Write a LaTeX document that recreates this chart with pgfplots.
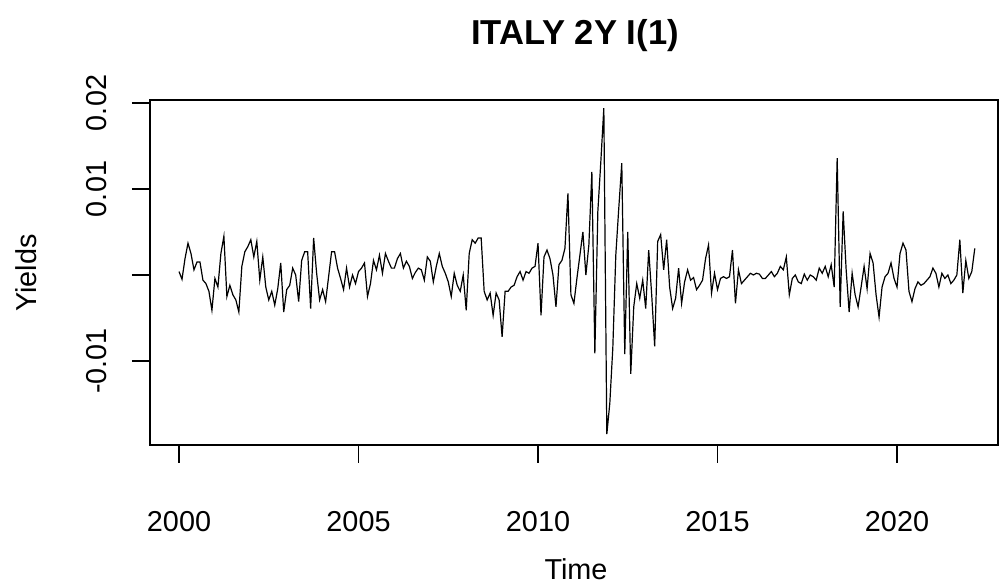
\documentclass[border=0pt]{standalone}
\usepackage{fontspec}
\setmainfont{Liberation Sans}
\usepackage{pgfplots}
\pgfplotsset{compat=1.18}
\usepackage{pgfplotstable}
% k = month index from Jan 2000, v = yield change in units of 0.001
\pgfplotstableread{
k v
0 0.4
1 -0.5
2 1.9
3 3.7
4 2.5
5 0.6
6 1.5
7 1.5
8 -0.6
9 -1.0
10 -1.9
11 -4.1
12 -0.4
13 -1.4
14 2.5
15 4.5
16 -2.5
17 -1.2
18 -2.3
19 -2.9
20 -4.3
21 1.0
22 2.7
23 3.3
24 4.1
25 2.1
26 3.9
27 -0.6
28 2.1
29 -1.4
30 -2.9
31 -1.9
32 -3.5
33 -1.6
34 1.4
35 -4.3
36 -1.7
37 -1.2
38 0.8
39 0.0
40 -3.1
41 1.7
42 2.7
43 2.7
44 -3.9
45 4.3
46 0.2
47 -2.9
48 -1.7
49 -3.1
50 -0.2
51 2.7
52 2.7
53 0.8
54 -0.4
55 -1.7
56 0.8
57 -1.4
58 0.0
59 -1.0
60 0.4
61 0.8
62 1.4
63 -2.5
64 -1.0
65 1.7
66 0.6
67 2.3
68 0.2
69 2.5
70 1.6
71 0.8
72 0.8
73 1.9
74 2.5
75 0.8
76 1.6
77 1.0
78 -0.4
79 0.3
80 0.8
81 0.6
82 -0.6
83 2.1
84 1.6
85 -0.8
86 1.0
87 2.5
88 1.0
89 0.2
90 -0.8
91 -2.5
92 0.2
93 -1.2
94 -1.9
95 0.0
96 -4.1
97 2.5
98 4.1
99 3.7
100 4.3
101 4.3
102 -1.9
103 -2.9
104 -2.1
105 -4.7
106 -2.1
107 -2.9
108 -7.2
109 -1.9
110 -1.9
111 -1.4
112 -1.2
113 -0.2
114 0.4
115 -0.6
116 0.4
117 0.2
118 0.8
119 1.0
120 3.7
121 -4.7
122 2.1
123 2.9
124 1.9
125 0.0
126 -3.7
127 1.2
128 1.7
129 3.1
130 9.5
131 -2.3
132 -3.3
133 -0.4
134 2.3
135 5.0
136 0.0
137 3.5
138 12.0
139 -9.1
140 7.4
141 13.2
142 19.4
143 -18.5
144 -14.9
145 -8.5
146 2.3
147 7.8
148 13.0
149 -9.2
150 5.0
151 -11.5
152 -3.7
153 -1.0
154 -2.7
155 -0.6
156 -3.9
157 2.9
158 -2.3
159 -8.3
160 3.9
161 4.7
162 0.6
163 4.1
164 -1.4
165 -3.9
166 -2.7
167 0.8
168 -3.3
169 -0.8
170 0.6
171 -0.6
172 -0.3
173 -1.7
174 -1.2
175 -0.6
176 1.9
177 3.5
178 -2.1
179 0.2
180 -1.7
181 -0.4
182 -0.2
183 -0.4
184 -0.2
185 2.9
186 -3.3
187 0.6
188 -1.0
189 -0.6
190 -0.2
191 0.2
192 0.0
193 0.2
194 0.1
195 -0.4
196 -0.4
197 0.0
198 0.4
199 -0.2
200 0.2
201 1.0
202 0.6
203 2.1
204 -2.3
205 -0.4
206 0.0
207 -0.8
208 -1.0
209 0.1
210 -0.6
211 0.0
212 -0.2
213 -0.6
214 0.8
215 0.2
216 1.0
217 -0.2
218 1.2
219 -1.4
220 13.6
221 -3.7
222 7.4
223 0.6
224 -4.3
225 0.2
226 -2.3
227 -3.7
228 -1.4
229 1.0
230 -1.6
231 2.5
232 1.4
233 -2.3
234 -4.9
235 -1.4
236 -0.2
237 0.2
238 1.4
239 -0.4
240 -1.4
241 2.5
242 3.7
243 2.9
244 -1.9
245 -3.1
246 -1.6
247 -0.8
248 -1.2
249 -1.0
250 -0.6
251 -0.2
252 0.8
253 0.2
254 -1.4
255 0.2
256 -0.4
257 0.0
258 -1.0
259 -0.6
260 0.0
261 4.1
262 -2.1
263 1.7
264 -0.4
265 0.4
266 3.1
}\datatable
\begin{document}
\begin{tikzpicture}
\useasboundingbox (-75pt,-71pt) rectangle (425pt,222.5pt);
\begin{axis}[
  at={(0pt,0pt)}, anchor=south west,
  scale only axis, width=424pt, height=172.5pt,
  xmin=-9.70, xmax=273.76, ymin=-19.767, ymax=20.349,
  xtick={0,60,120,180,240}, xticklabels={2000,2005,2010,2015,2020},
  ytick={-10,0,10,20}, yticklabels={-0.01,,0.01,0.02},
  scaled ticks=false,
  /pgf/number format/assume math mode=true,
  tick align=outside, major tick length=9pt,
  xtick pos=bottom, ytick pos=left,
  tick style={black, line width=0.65pt},
  axis line style={line width=0.65pt},
  ticklabel style={font=\fontsize{14.4}{17}\selectfont},
  xticklabel style={anchor=north, inner ysep=24pt},
  yticklabel style={rotate=90, anchor=south, inner ysep=12.5pt},
]
\addplot[black, line width=0.6pt] table[x=k, y=v] {\datatable};
\end{axis}
\node[anchor=base, font=\fontsize{17.3}{20}\selectfont\bfseries] at (212.5pt,200pt) {ITALY 2Y I(1)};
\node[anchor=base, font=\fontsize{14.4}{17}\selectfont] at (213pt,-67.5pt) {Time};
\node[rotate=90, anchor=base, font=\fontsize{14.4}{17}\selectfont] at (-56.5pt,86pt) {Yields};
\end{tikzpicture}
\end{document}
